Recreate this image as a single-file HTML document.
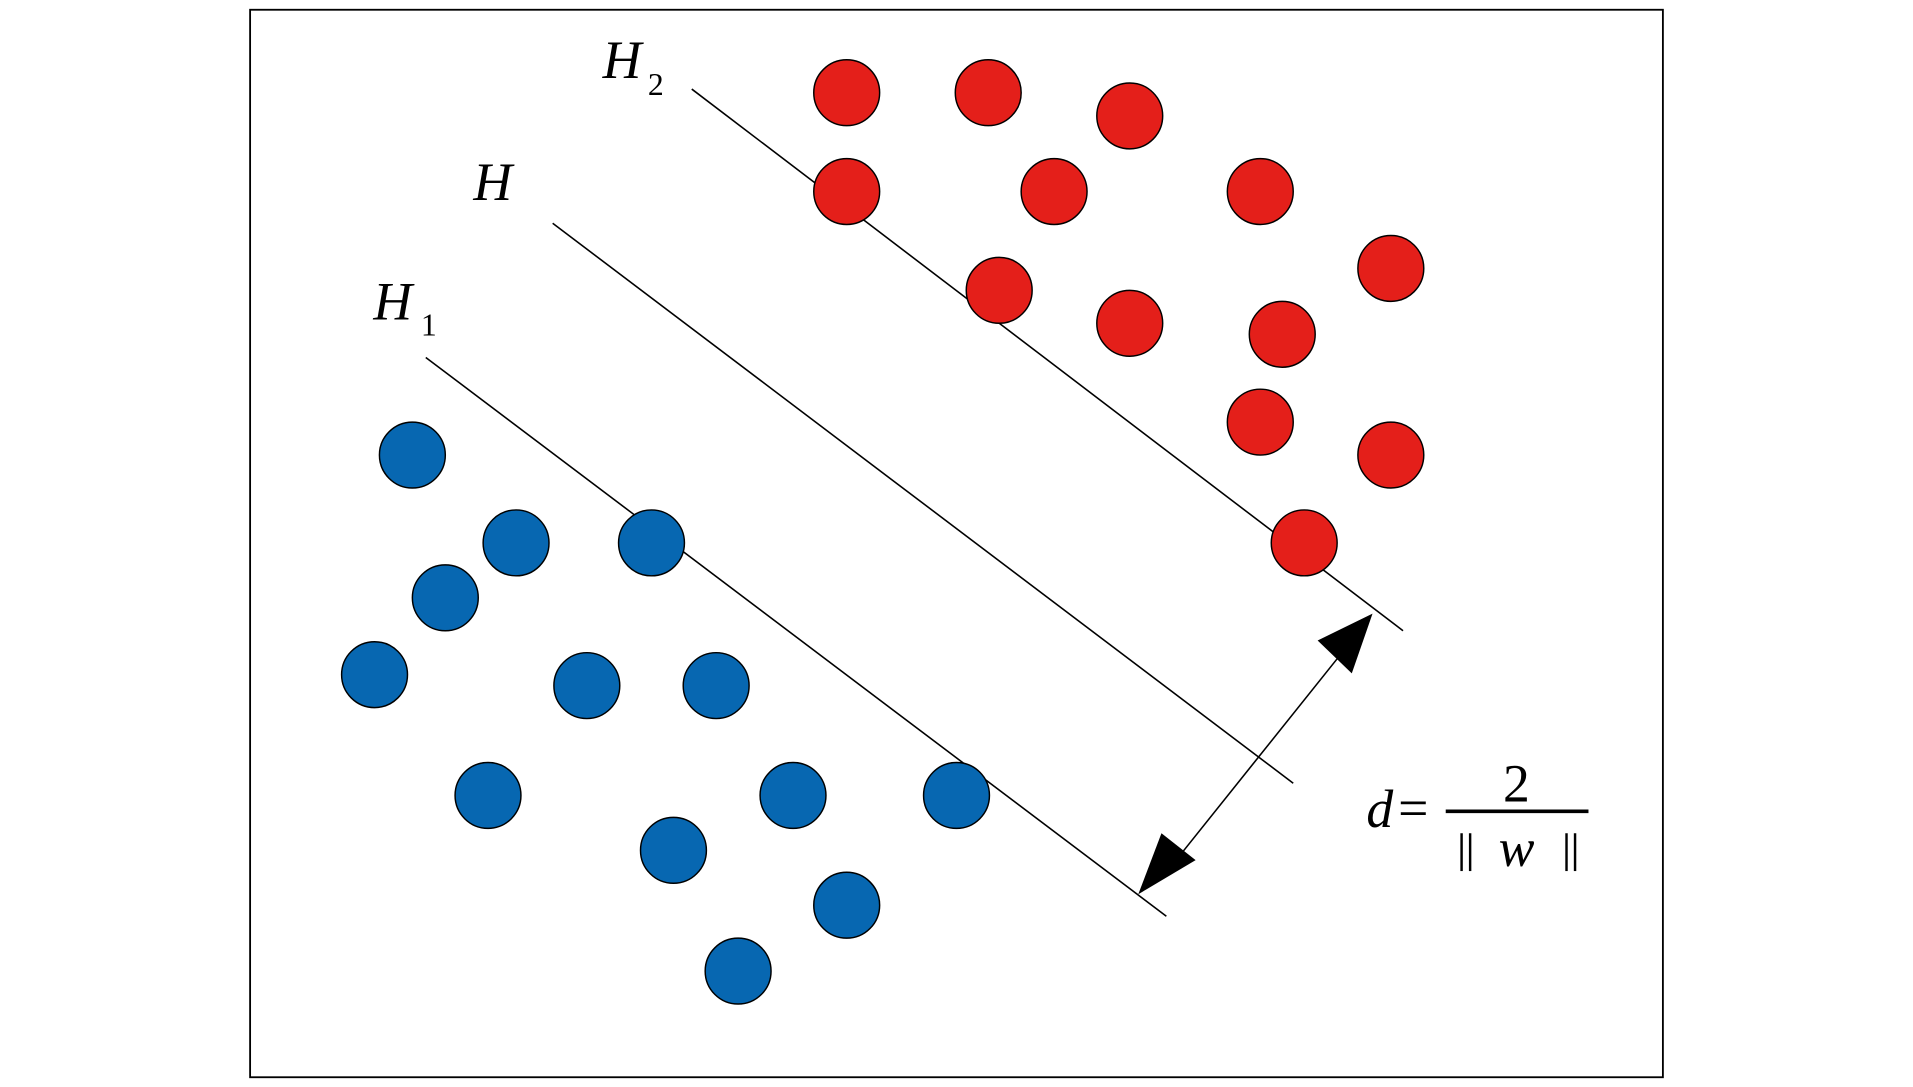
<!DOCTYPE html>
<html><head><meta charset="utf-8"><style>
html,body{margin:0;padding:0;background:#fff;}
svg{display:block;}
text{font-family:"Liberation Serif",serif;fill:#000;}
</style></head><body>
<svg width="1913" height="1087" viewBox="0 0 1568 891" preserveAspectRatio="none" xmlns="http://www.w3.org/2000/svg">
<rect x="205" y="8" width="1158" height="875" fill="#fff" stroke="#000" stroke-width="1.5"/>
<g stroke="#000" stroke-width="1.3">
<line x1="567" y1="73" x2="1150" y2="517"/>
<line x1="453" y1="183" x2="1060" y2="642"/>
<line x1="349" y1="293" x2="956" y2="751"/>
<line x1="960" y1="710" x2="1100" y2="535"/>
</g>
<polygon points="1125,503 1080,525 1108,552" fill="#000"/>
<polygon points="933,733 952,683 980,705" fill="#000"/>
<g fill="#e41f1a" stroke="#000" stroke-width="1.2">
<circle cx="694" cy="76" r="27"/><circle cx="810" cy="76" r="27"/><circle cx="926" cy="95" r="27"/>
<circle cx="694" cy="157" r="27"/><circle cx="864" cy="157" r="27"/><circle cx="1033" cy="157" r="27"/>
<circle cx="1140" cy="220" r="27"/><circle cx="819" cy="238" r="27"/><circle cx="926" cy="265" r="27"/>
<circle cx="1051" cy="274" r="27"/><circle cx="1033" cy="346" r="27"/><circle cx="1140" cy="373" r="27"/>
<circle cx="1069" cy="445" r="27"/>
</g>
<g fill="#0767b1" stroke="#000" stroke-width="1.2">
<circle cx="338" cy="373" r="27"/><circle cx="423" cy="445" r="27"/><circle cx="534" cy="445" r="27"/>
<circle cx="365" cy="490" r="27"/><circle cx="307" cy="553" r="27"/><circle cx="481" cy="562" r="27"/>
<circle cx="587" cy="562" r="27"/><circle cx="400" cy="652" r="27"/><circle cx="650" cy="652" r="27"/>
<circle cx="784" cy="652" r="27"/><circle cx="552" cy="697" r="27"/><circle cx="694" cy="742" r="27"/>
<circle cx="605" cy="796" r="27"/>
</g>
<text x="494" y="64" font-size="44" font-style="italic">H</text>
<text x="531" y="78" font-size="26">2</text>
<text x="388" y="164" font-size="44" font-style="italic">H</text>
<text x="306" y="262" font-size="44" font-style="italic">H</text>
<text x="345" y="275" font-size="26">1</text>
<text x="1120" y="678" font-size="44" font-style="italic">d</text>
<text x="1146" y="677" font-size="44">=</text>
<text x="1243" y="657" font-size="44" text-anchor="middle">2</text>
<line x1="1185" y1="665" x2="1302" y2="665" stroke="#000" stroke-width="3"/>
<text x="1243" y="710" font-size="44" font-style="italic" text-anchor="middle">w</text>
<g stroke="#000" stroke-width="2">
<line x1="1198" y1="683" x2="1198" y2="714"/><line x1="1205" y1="683" x2="1205" y2="714"/>
<line x1="1284" y1="683" x2="1284" y2="714"/><line x1="1291" y1="683" x2="1291" y2="714"/>
</g>
</svg>
</body></html>
